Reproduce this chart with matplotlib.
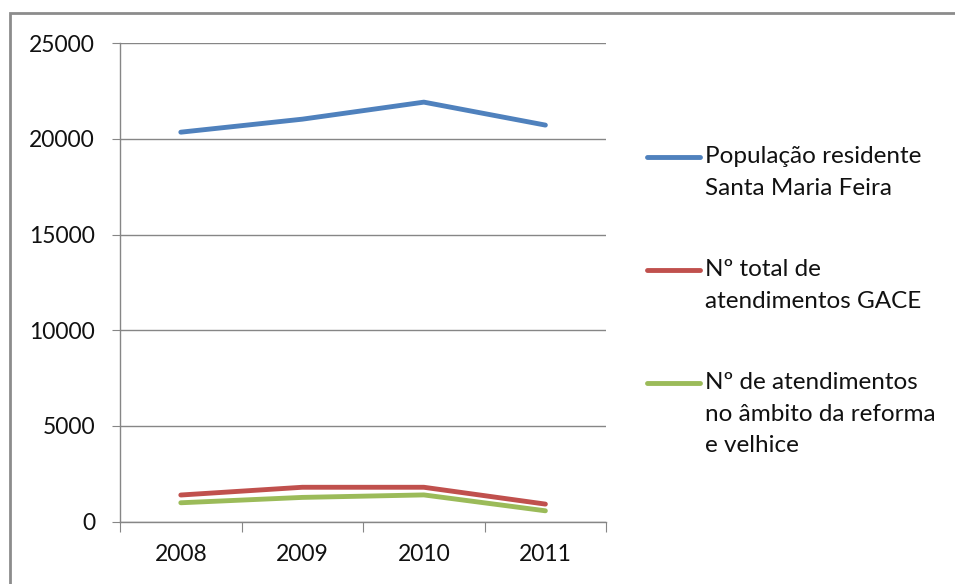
import matplotlib.pyplot as plt
from matplotlib.lines import Line2D
from matplotlib.patches import Rectangle

plt.rcParams['font.family'] = ['Lato', 'DejaVu Sans']

anos = ['2008', '2009', '2010', '2011']
populacao = [20350, 21030, 21920, 20720]
atend_total = [1385, 1790, 1790, 910]
atend_reforma = [980, 1260, 1390, 560]

series = [
    ('População residente\nSanta Maria Feira', populacao, '#4F81BD'),
    ('Nº total de\natendimentos GACE', atend_total, '#C0504D'),
    ('Nº de atendimentos\nno âmbito da reforma\ne velhice', atend_reforma, '#9BBB59'),
]

fig = plt.figure(figsize=(9.55, 5.84), dpi=100)
ax = fig.add_axes([0.1257, 0.107, 0.509, 0.819])

xs = list(range(len(anos)))
for nome, vals, cor in series:
    ax.plot(xs, vals, color=cor, lw=3.5, solid_capstyle='round', zorder=3)

ax.set_xlim(-0.5, len(anos) - 0.5)
ax.set_ylim(0, 25000)
ax.set_yticks(range(0, 25001, 5000))
ax.grid(axis='y', color='#868686', lw=1)
ax.set_axisbelow(True)

# categories sit between the tick marks
ax.set_xticks([i - 0.5 for i in range(len(anos) + 1)])
ax.set_xticklabels([])
ax.set_xticks(xs, minor=True)
ax.set_xticklabels(anos, minor=True)
ax.tick_params(axis='x', which='major', length=7, color='#868686', direction='out')
ax.tick_params(axis='x', which='minor', length=0, pad=16, labelsize=16.5, labelcolor='#111111')
ax.tick_params(axis='y', length=6, color='#868686', pad=12, labelsize=16.5, labelcolor='#111111')

for s in ['top', 'right']:
    ax.spines[s].set_visible(False)
for s in ['left', 'bottom']:
    ax.spines[s].set_color('#868686')
    ax.spines[s].set_linewidth(1)

# legend drawn by hand to the right of the plot
W, H = 955, 584
leg_y = [157, 270, 383]
for (nome, vals, cor), y in zip(series, leg_y):
    fig.add_artist(Line2D([647 / W, 700 / W], [1 - y / H, 1 - y / H], color=cor,
                          lw=3.5, solid_capstyle='round', transform=fig.transFigure))
    fig.text(705 / W, 1 - (y - 11) / H, nome, fontsize=17.5, color='#111111',
             va='top', ha='left', linespacing=1.62)

# chart frame (runs off the right and bottom edge)
fig.add_artist(Rectangle((10 / W, -0.05), 1.1, 1 - 13 / H + 0.05, fill=False,
                         edgecolor='#8c8c8c', lw=2, transform=fig.transFigure))

fig.savefig('out.png', dpi=100)
